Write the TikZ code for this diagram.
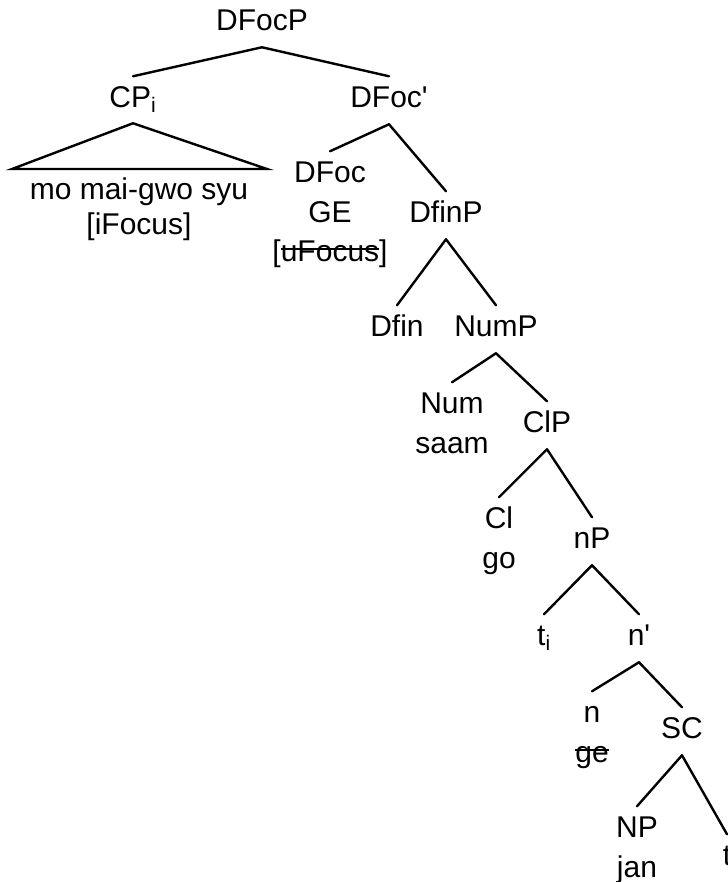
\documentclass[tikz,border=0pt]{standalone}
\usepackage{fontspec}
\setmainfont{Liberation Sans}
\usetikzlibrary{calc}
\newsavebox{\strikebox}
\newcommand{\strikeout}[1]{\sbox{\strikebox}{#1}\rlap{\rule[0.37em]{\wd\strikebox}{1.3pt}}\usebox{\strikebox}}

\begin{document}
\begin{tikzpicture}[x=0.75pt,y=-0.75pt,
  cat/.style={anchor=base,inner sep=0pt,text height=16.1pt,text depth=0pt,
    font=\fontsize{22.5}{30}\selectfont},
  branch/.style={line width=1.8pt,line cap=round}]
\useasboundingbox (0,0) rectangle (728,882);

% categories, placed on their baselines
\node[cat] (dfocp)   at (262,30)  {DFocP};
\node[cat] (cp)      at (133,107) {CP\textsubscript{i}};
\node[cat] (dfocbar) at (389,107) {DFoc\textquotesingle};
\node[cat] (dfoc)    at (330,182) {DFoc};
\node[cat] (dfinp)   at (446,222) {DfinP};
\node[cat] (dfin)    at (397,336) {Dfin};
\node[cat] (nump)    at (496,336) {NumP};
\node[cat] (num)     at (452,413) {Num};
\node[cat] (clp)     at (547,432) {ClP};
\node[cat] (cl)      at (499,528) {Cl};
\node[cat] (np)      at (592,548) {nP};
\node[cat] (ti)      at (544,645) {t\textsubscript{i}};
\node[cat] (nbar)    at (639,645) {n\textquotesingle};
\node[cat] (n)       at (592,722) {n};
\node[cat] (sc)      at (682,738) {SC};
\node[cat] (bignp)   at (637,837) {NP};
\node[cat] (trace)   at (727,865) {t};

% words and features under the heads
\node[cat] (cp-words) at (139,199) {mo mai-gwo syu};
\node[cat] (cp-feat)  at (139,234) {[iFocus]};
\node[cat] (dfoc-ge)  at (330,222) {GE};
\node[cat] (dfoc-feat) at (330,261) {[\strikeout{uFocus}]};
\node[cat] (num-w)    at (452,453) {saam};
\node[cat] (cl-w)     at (499,568) {go};
\node[cat] (n-w)      at (592,762) {\strikeout{ge}};
\node[cat] (bignp-w)  at (637,877) {jan};

% branches
\foreach \p/\c in {dfocp/cp,dfocp/dfocbar,dfocbar/dfoc,dfocbar/dfinp,
                   dfinp/dfin,dfinp/nump,nump/num,nump/clp,clp/cl,clp/np,
                   np/ti,np/nbar,nbar/n,nbar/sc,sc/bignp,sc/trace}
  \draw[branch] ([yshift=-12.75pt]\p.south) -- ([yshift=6.75pt]\c.north);

% triangle over the CP
\coordinate (tri-l) at (12,169);
\coordinate (tri-r) at (267,169);
\draw[branch,line join=miter] ([yshift=-12pt]cp.south) -- (tri-r) -- (tri-l) -- cycle;

\end{tikzpicture}
\end{document}
